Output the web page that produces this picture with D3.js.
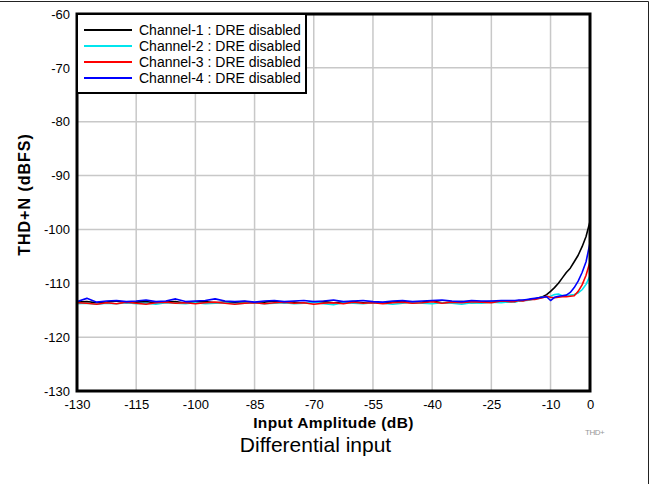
<!DOCTYPE html>
<html>
<head>
<meta charset="utf-8">
<script src="https://cdn.jsdelivr.net/npm/d3@7"></script>
<style>
  body { margin: 0; background: #fff; }
  svg { font-family: "Liberation Sans", Arial, sans-serif; }
</style>
</head>
<body>
<div id="chart"></div>
<script>
// input amplitude (dB)
const amplitude = [-130, -127.5, -125, -122.5, -120, -117.5, -115, -112.5, -110, -107.5,
    -105, -102.5, -100, -97.5, -95, -92.5, -90, -87.5, -85, -82.5,
    -80, -77.5, -75, -72.5, -70, -67.5, -65, -62.5, -60, -57.5,
    -55, -52.5, -50, -47.5, -45, -42.5, -40, -37.5, -35, -32.5,
    -30, -27.5, -25, -22.5, -20,
    -19, -18, -17, -16, -15, -14, -13, -12, -11, -10,
    -9, -8, -7, -6, -5, -4, -3, -2, -1, 0]

const ch1 = [-113.5, -113.4, -113.6, -113.5, -113.3, -113.6, -113.5, -113.4, -113.6, -113.5,
    -113.4, -113.7, -113.5, -113.4, -113.6, -113.5, -113.5, -113.4, -113.6, -113.5,
    -113.3, -113.6, -113.5, -113.7, -113.5, -113.4, -113.6, -113.5, -113.4, -113.6,
    -113.5, -113.7, -113.5, -113.4, -113.6, -113.5, -113.3, -113.6, -113.5, -113.4,
    -113.6, -113.5, -113.4, -113.5, -113.4,
    -113.3, -113.3, -113.2, -113.1, -113.0, -112.9, -112.7, -112.5, -112.1, -111.5,
    -110.8, -110.0, -109.0, -108.0, -107.2, -106.0, -104.8, -103.2, -101.3, -98.5]

const ch2 = [-113.8, -113.7, -113.9, -113.7, -113.8, -113.6, -113.8, -113.7, -113.9, -113.6,
    -113.7, -113.8, -113.6, -113.8, -113.7, -113.6, -113.8, -113.7, -113.6, -113.8,
    -113.7, -113.6, -113.8, -113.7, -113.5, -113.8, -114.0, -113.6, -113.7, -113.8,
    -113.6, -113.7, -113.9, -113.7, -113.5, -113.7, -113.8, -113.6, -113.7, -113.9,
    -113.6, -113.7, -113.5, -113.6, -113.4,
    -113.5, -113.3, -113.2, -113.2, -113.0, -112.9, -112.8, -112.6, -112.5, -112.4,
    -112.1, -112.0, -112.3, -112.3, -112.2, -112.1, -111.8, -111.2, -110.2, -108.6]

const ch3 = [-113.6, -113.7, -113.9, -113.6, -113.8, -113.5, -113.7, -113.9, -113.6, -113.5,
    -113.7, -113.6, -113.8, -113.6, -113.5, -113.7, -113.9, -113.7, -113.6, -113.8,
    -113.6, -113.5, -113.7, -113.6, -113.9, -113.7, -113.6, -113.8, -113.5, -113.7,
    -113.6, -113.8, -113.6, -113.5, -113.7, -113.6, -113.4, -113.7, -113.5, -113.6,
    -113.4, -113.5, -113.6, -113.3, -113.4,
    -113.4, -113.2, -113.3, -113.1, -113.0, -113.0, -112.8, -112.7, -112.4, -112.6,
    -112.7, -112.6, -112.5, -112.5, -112.4, -112.3, -111.5, -110.3, -108.5, -106.0]

const ch4 = [-113.4, -112.8, -113.5, -113.3, -113.2, -113.4, -113.3, -113.1, -113.4, -113.3,
    -112.9, -113.4, -113.3, -113.2, -112.9, -113.3, -113.4, -113.3, -113.5, -113.3,
    -113.2, -113.4, -113.3, -113.2, -113.4, -113.3, -113.1, -113.4, -113.3, -113.2,
    -113.4, -113.5, -113.3, -113.2, -113.4, -113.3, -113.2, -113.1, -113.3, -113.4,
    -113.2, -113.3, -113.3, -113.2, -113.2,
    -113.2, -113.1, -113.1, -113.0, -112.9, -112.8, -112.7, -112.6, -112.5, -113.2,
    -112.6, -112.4, -112.3, -112.2, -111.7, -110.8, -109.6, -108.0, -106.0, -102.5]

const seriesNames = ['Channel-1 : DRE disabled', 'Channel-2 : DRE disabled',
    'Channel-3 : DRE disabled', 'Channel-4 : DRE disabled']
const seriesColors = ['#000000', '#00e5ee', '#ff0000', '#0000ff']
const seriesValues = [ch1, ch2, ch3, ch4]

const xTicks = [-130, -115, -100, -85, -70, -55, -40, -25, -10, 0]
const yTicks = [-60, -70, -80, -90, -100, -110, -120, -130]

const W = 653, H = 484
const margin = { left: 77, top: 14, right: 63, bottom: 93 }
const width = W - margin.left - margin.right
const height = H - margin.top - margin.bottom

const root = d3.select('#chart')
    .append('svg')
    .attr('width', W)
    .attr('height', H)

// outer frame (top and right only)
root.append('line').attr('x1', 0).attr('x2', 648.5).attr('y1', 1.5).attr('y2', 1.5)
    .attr('stroke', '#222').attr('stroke-width', 1)
root.append('line').attr('x1', 648.5).attr('x2', 648.5).attr('y1', 1.5).attr('y2', H)
    .attr('stroke', '#222').attr('stroke-width', 1)

const svg = root.append('g')
    .attr('transform', `translate(${margin.left}, ${margin.top})`)

const xScale = d3.scaleLinear().domain([-130, 0]).range([0, width])
const yScale = d3.scaleLinear().domain([-130, -60]).range([height, 0])

// grid
svg.append('g')
    .selectAll('line')
    .data(xTicks)
    .join('line')
    .attr('x1', d => xScale(d)).attr('x2', d => xScale(d))
    .attr('y1', 0).attr('y2', height)
    .attr('stroke', '#c8c8c8').attr('stroke-width', 1.5)
svg.append('g')
    .selectAll('line')
    .data(yTicks)
    .join('line')
    .attr('x1', 0).attr('x2', width)
    .attr('y1', d => yScale(d)).attr('y2', d => yScale(d))
    .attr('stroke', '#c8c8c8').attr('stroke-width', 1.5)

// axes (labels only, plain hyphen for minus)
const xaxis = d3.axisBottom(xScale).tickValues(xTicks).tickSize(0).tickPadding(8.5)
    .tickFormat(d => String(d))
const yaxis = d3.axisLeft(yScale).tickValues(yTicks).tickSize(0).tickPadding(7)
    .tickFormat(d => String(d))
svg.append('g')
    .attr('transform', `translate(0, ${height})`)
    .call(xaxis)
    .call(g => g.select('.domain').remove())
    .selectAll('text')
    .style('font-size', '13px').attr('fill', '#000')
    .style('font-family', '"Liberation Sans", Arial, sans-serif')
svg.append('g')
    .call(yaxis)
    .call(g => g.select('.domain').remove())
    .selectAll('text')
    .style('font-size', '13px').attr('fill', '#000')
    .style('font-family', '"Liberation Sans", Arial, sans-serif')

// lines
svg.append('clipPath').attr('id', 'clip')
    .append('rect').attr('width', width).attr('height', height)

const line = d3.line()
    .x((d, i) => xScale(amplitude[i]))
    .y(d => yScale(d))

svg.append('g')
    .attr('clip-path', 'url(#clip)')
    .selectAll('path')
    .data(seriesValues)
    .join('path')
    .attr('d', d => line(d))
    .attr('fill', 'none')
    .attr('stroke', (d, i) => seriesColors[i])
    .attr('stroke-width', 1.6)
    .attr('stroke-linejoin', 'round')

// plot frame
svg.append('rect')
    .attr('width', width).attr('height', height)
    .attr('fill', 'none').attr('stroke', '#000').attr('stroke-width', 3)

// legend
const legend = svg.append('g')
legend.append('rect')
    .attr('x', 0).attr('y', 0).attr('width', 229).attr('height', 79)
    .attr('fill', '#fff').attr('stroke', '#000').attr('stroke-width', 2)
const items = legend.selectAll('g.item')
    .data(seriesNames)
    .join('g')
    .attr('class', 'item')
    .attr('transform', (d, i) => `translate(0, ${16 + i * 16})`)
items.append('line')
    .attr('x1', 7).attr('x2', 55)
    .attr('stroke', (d, i) => seriesColors[i]).attr('stroke-width', 2)
items.append('text')
    .attr('x', 62).attr('dy', '0.35em')
    .style('font-size', '14px')
    .text(d => d)

// axis titles
svg.append('text')
    .attr('transform', 'rotate(-90)')
    .attr('x', -(height / 2) + 8)
    .attr('y', -47)
    .style('text-anchor', 'middle')
    .style('font-size', '16px')
    .style('font-weight', 'bold')
    .style('letter-spacing', '1px')
    .text('THD+N (dBFS)')
svg.append('text')
    .attr('x', width / 2)
    .attr('y', height + 36.5)
    .style('text-anchor', 'middle')
    .style('font-size', '15.5px')
    .style('font-weight', 'bold')
    .style('letter-spacing', '0.4px')
    .text('Input Amplitude (dB)')
svg.append('text')
    .attr('x', width / 2 - 18)
    .attr('y', height + 61)
    .style('text-anchor', 'middle')
    .style('font-size', '21px')
    .text('Differential input')
svg.append('text')
    .attr('x', width - 5)
    .attr('y', height + 44)
    .style('font-size', '8px')
    .attr('fill', '#999')
    .style('letter-spacing', '-0.5px')
    .text('THD+')
</script>
</body>
</html>
